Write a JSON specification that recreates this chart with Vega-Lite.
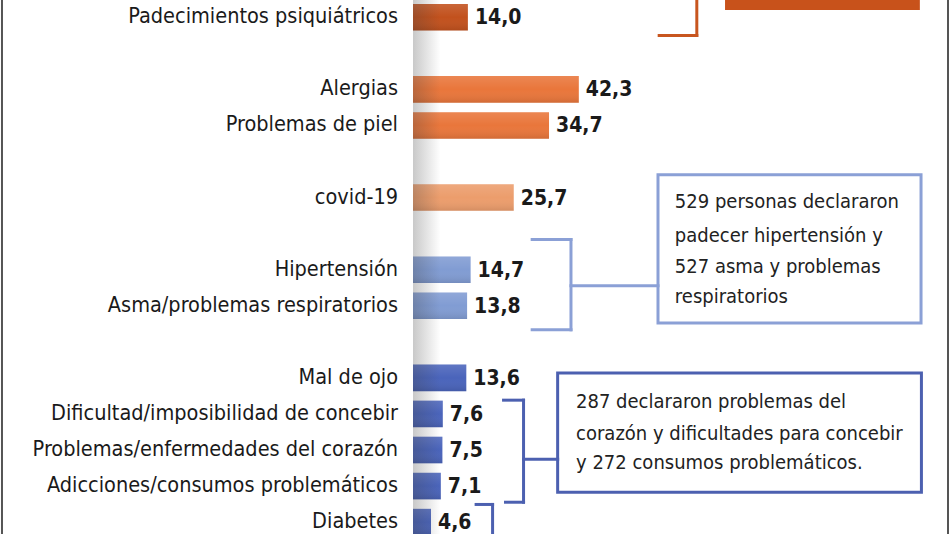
{
  "$schema": "https://vega.github.io/schema/vega-lite/v6.json",
  "width": 950,
  "height": 534,
  "autosize": "none",
  "padding": 0,
  "background": "white",
  "config": {
    "view": {"stroke": null},
    "locale": {"number": {"decimal": ",", "thousands": ".", "grouping": [3], "currency": ["", " €"]}}
  },
  "datasets": {
    "bars": [
      {"label": "Padecimientos psiquiátricos", "value": 14.0, "pos": 0, "grp": "a"},
      {"label": "Alergias", "value": 42.3, "pos": 2, "grp": "b"},
      {"label": "Problemas de piel", "value": 34.7, "pos": 3, "grp": "b"},
      {"label": "covid-19", "value": 25.7, "pos": 5, "grp": "c"},
      {"label": "Hipertensión", "value": 14.7, "pos": 7, "grp": "d"},
      {"label": "Asma/problemas respiratorios", "value": 13.8, "pos": 8, "grp": "d"},
      {"label": "Mal de ojo", "value": 13.6, "pos": 10, "grp": "e"},
      {"label": "Dificultad/imposibilidad de concebir", "value": 7.6, "pos": 11, "grp": "e"},
      {"label": "Problemas/enfermedades del corazón", "value": 7.5, "pos": 12, "grp": "e"},
      {"label": "Adicciones/consumos problemáticos", "value": 7.1, "pos": 13, "grp": "e"},
      {"label": "Diabetes", "value": 4.6, "pos": 14, "grp": "e"}
    ],
    "segs": [
      {"x": 62.8, "x2": 72.4, "y": 0.503, "y2": 0.503, "grp": "o"},
      {"x": 72.4, "x2": 72.4, "y": -0.5, "y2": 0.503, "grp": "o"},
      {"x": 30.4, "x2": 40.3, "y": 6.163, "y2": 6.163, "grp": "l"},
      {"x": 40.3, "x2": 40.3, "y": 6.163, "y2": 8.667, "grp": "l"},
      {"x": 30.4, "x2": 40.3, "y": 8.667, "y2": 8.667, "grp": "l"},
      {"x": 40.3, "x2": 62.5, "y": 7.442, "y2": 7.442, "grp": "l"},
      {"x": 23.1, "x2": 28.2, "y": 10.618, "y2": 10.618, "grp": "d"},
      {"x": 28.2, "x2": 28.2, "y": 10.618, "y2": 13.448, "grp": "d"},
      {"x": 23.6, "x2": 28.2, "y": 13.448, "y2": 13.448, "grp": "d"},
      {"x": 28.2, "x2": 36.9, "y": 12.259, "y2": 12.259, "grp": "d"},
      {"x": 16.1, "x2": 20.3, "y": 13.51, "y2": 13.51, "grp": "d"},
      {"x": 20.3, "x2": 20.3, "y": 13.51, "y2": 14.4, "grp": "d"}
    ],
    "boxes": [
      {"x": 62.5, "x2": 129.6, "y": 4.367, "y2": 8.476, "grp": "l"},
      {"x": 36.9, "x2": 129.7, "y": 9.864, "y2": 13.17, "grp": "d"}
    ],
    "notes": [
      {"t": "529 personas declararon", "x": 66.8, "y": 5.129},
      {"t": "padecer hipertensión y", "x": 66.8, "y": 6.054},
      {"t": "527 asma y problemas", "x": 66.8, "y": 6.925},
      {"t": "respiratorios", "x": 66.8, "y": 7.769},
      {"t": "287 declararon problemas del", "x": 41.6, "y": 10.68},
      {"t": "corazón y dificultades para concebir", "x": 41.6, "y": 11.551},
      {"t": "y 272 consumos problemáticos.", "x": 41.6, "y": 12.367}
    ]
  },
  "layer": [
    {
      "data": {"values": [{"a": 79.6, "b": 129.3, "c": -0.5, "d": -0.204}]},
      "mark": {"type": "rect", "color": "#c8521b"},
      "encoding": {
        "x": {"field": "a", "type": "quantitative", "scale": {"domain": [-105.357, 136.99], "nice": false, "zero": false}, "axis": null},
        "x2": {"field": "b"},
        "y": {"field": "c", "type": "quantitative", "scale": {"domain": [-0.3401, 14.1905], "nice": false, "zero": false, "reverse": true}, "axis": null},
        "y2": {"field": "d"}
      }
    },
    {
      "data": {"name": "bars"},
      "mark": {"type": "bar", "orient": "horizontal", "size": 26.6},
      "encoding": {
        "x": {"field": "value", "type": "quantitative", "stack": null, "axis": null},
        "y": {"field": "pos", "type": "quantitative", "axis": null},
        "color": {"field": "grp", "type": "nominal", "legend": null,
          "scale": {"domain": ["a", "b", "c", "d", "e"], "range": ["#c2511d", "#e9763b", "#ec9d6c", "#819cd3", "#4a64bb"]}}
      }
    },
    {
      "data": {"name": "bars"},
      "mark": {"type": "bar", "orient": "horizontal", "size": 26.6, "color": {"gradient": "linear", "x1": 0, "y1": 0, "x2": 0, "y2": 1, "stops": [{"offset": 0, "color": "rgba(255,255,255,0.12)"}, {"offset": 0.5, "color": "rgba(255,255,255,0)"}, {"offset": 1, "color": "rgba(0,0,0,0.1)"}]}},
      "encoding": {
        "x": {"field": "value", "type": "quantitative", "stack": null},
        "y": {"field": "pos", "type": "quantitative"}
      }
    },
    {
      "data": {"name": "bars"},
      "mark": {"type": "text", "align": "right", "baseline": "middle", "dx": -15, "font": "DejaVu Sans Condensed", "fontSize": 21.5, "color": "#1a1a1a"},
      "encoding": {
        "x": {"datum": 0, "type": "quantitative"},
        "y": {"field": "pos", "type": "quantitative"},
        "text": {"field": "label"}
      }
    },
    {
      "data": {"name": "bars"},
      "mark": {"type": "text", "align": "left", "baseline": "middle", "dx": 7, "dy": 1, "font": "DejaVu Sans Condensed", "fontWeight": "bold", "fontSize": 21, "color": "#1a1a1a"},
      "encoding": {
        "x": {"field": "value", "type": "quantitative"},
        "y": {"field": "pos", "type": "quantitative"},
        "text": {"field": "value", "type": "quantitative", "format": ".1f"}
      }
    },
    {
      "data": {"values": [{"a": 0, "b": 7}]},
      "mark": {"type": "rect", "color": {"gradient": "linear", "x1": 0, "y1": 0, "x2": 1, "y2": 0, "stops": [{"offset": 0, "color": "rgba(60,60,60,0.28)"}, {"offset": 1, "color": "rgba(60,60,60,0)"}]}},
      "encoding": {
        "x": {"field": "a", "type": "quantitative"},
        "x2": {"field": "b"}
      }
    },
    {
      "data": {"name": "boxes"},
      "mark": {"type": "rect", "fill": "white", "strokeWidth": 3},
      "encoding": {
        "x": {"field": "x", "type": "quantitative"},
        "x2": {"field": "x2"},
        "y": {"field": "y", "type": "quantitative"},
        "y2": {"field": "y2"},
        "stroke": {"field": "grp", "type": "nominal", "legend": null, "scale": {"domain": ["o", "l", "d"], "range": ["#c8561f", "#8ba0d6", "#4c60b0"]}}
      }
    },
    {
      "data": {"name": "segs"},
      "mark": {"type": "rule", "strokeWidth": 3, "strokeCap": "square"},
      "encoding": {
        "x": {"field": "x", "type": "quantitative"},
        "x2": {"field": "x2"},
        "y": {"field": "y", "type": "quantitative"},
        "y2": {"field": "y2"},
        "stroke": {"field": "grp", "type": "nominal", "legend": null}
      }
    },
    {
      "data": {"name": "notes"},
      "mark": {"type": "text", "align": "left", "baseline": "middle", "font": "DejaVu Sans Condensed", "fontSize": 20, "color": "#222222"},
      "encoding": {
        "x": {"field": "x", "type": "quantitative"},
        "y": {"field": "y", "type": "quantitative"},
        "text": {"field": "t"}
      }
    },
    {
      "data": {"values": [{"a": -104.85}, {"a": 136.48}]},
      "mark": {"type": "rule", "color": "#555555", "strokeWidth": 2},
      "encoding": {
        "x": {"field": "a", "type": "quantitative"}
      }
    }
  ]
}
